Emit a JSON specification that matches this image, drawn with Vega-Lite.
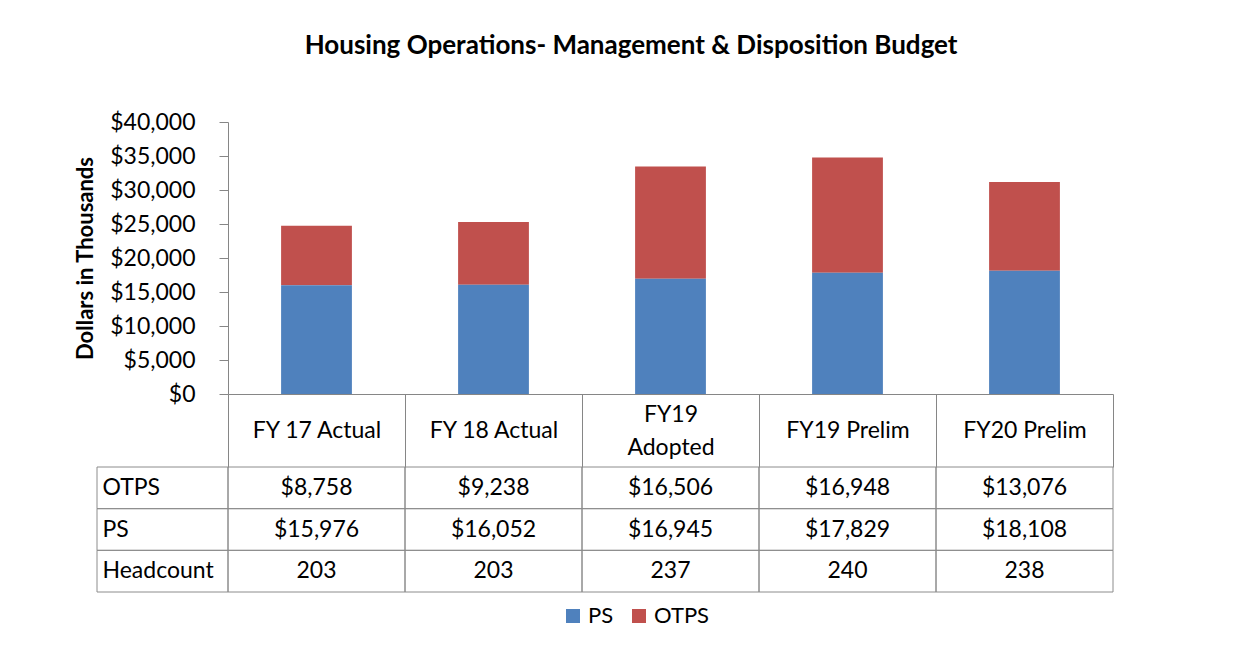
{
  "$schema": "https://vega.github.io/schema/vega-lite/v6.json",
  "padding": {"left": 74, "top": 33, "right": 10, "bottom": 10},
  "background": "white",
  "config": {
    "font": "Lato",
    "view": {"stroke": null},
    "axis": {"labelFont": "Lato", "titleFont": "Lato", "labelColor": "#000000", "titleColor": "#000000", "domainColor": "#868686", "tickColor": "#868686", "grid": false}
  },
  "title": {"text": "Housing Operations- Management & Disposition Budget", "fontSize": 26, "fontWeight": "bold", "font": "Lato", "color": "#000000", "anchor": "middle", "offset": 52, "dx": 37},
  "datasets": {
    "budget": [
      {"category": "FY 17 Actual", "row": "OTPS", "value": 8758},
      {"category": "FY 17 Actual", "row": "PS", "value": 15976},
      {"category": "FY 17 Actual", "row": "Headcount", "value": 203},
      {"category": "FY 18 Actual", "row": "OTPS", "value": 9238},
      {"category": "FY 18 Actual", "row": "PS", "value": 16052},
      {"category": "FY 18 Actual", "row": "Headcount", "value": 203},
      {"category": "FY19 Adopted", "row": "OTPS", "value": 16506},
      {"category": "FY19 Adopted", "row": "PS", "value": 16945},
      {"category": "FY19 Adopted", "row": "Headcount", "value": 237},
      {"category": "FY19 Prelim", "row": "OTPS", "value": 16948},
      {"category": "FY19 Prelim", "row": "PS", "value": 17829},
      {"category": "FY19 Prelim", "row": "Headcount", "value": 240},
      {"category": "FY20 Prelim", "row": "OTPS", "value": 13076},
      {"category": "FY20 Prelim", "row": "PS", "value": 18108},
      {"category": "FY20 Prelim", "row": "Headcount", "value": 238}
    ]
  },
  "columns": 2,
  "spacing": {"row": 73, "column": 0},
  "bounds": "flush",
  "align": "each",
  "resolve": {"scale": {"color": "independent"}, "legend": {"color": "independent"}},
  "concat": [
    {
      "width": 131,
      "height": 272,
      "data": {"values": [{}]},
      "mark": {"type": "rect", "opacity": 0}
    },
    {
      "width": 885,
      "height": 272,
      "data": {"name": "budget"},
      "transform": [{"filter": "datum.row != 'Headcount'"}],
      "mark": {"type": "bar", "width": {"band": 0.4}},
      "encoding": {
        "x": {
          "field": "category", "type": "nominal",
          "sort": ["FY 17 Actual", "FY 18 Actual", "FY19 Adopted", "FY19 Prelim", "FY20 Prelim"],
          "scale": {"paddingInner": 0, "paddingOuter": 0},
          "axis": {"title": null, "labelAngle": 0, "tickBand": "extent", "tickSize": 73, "labelPadding": {"condition": {"test": "datum.value == 'FY19 Adopted'", "value": -53}, "value": -37}, "labelBaseline": "middle", "labelAlign": "center", "labelLineHeight": 33, "labelFontSize": 23, "labelExpr": "datum.value == 'FY19 Adopted' ? ['FY19', 'Adopted'] : datum.label", "zindex": 1}
        },
        "y": {
          "field": "value", "type": "quantitative", "stack": "zero",
          "scale": {"domain": [0, 40000]},
          "axis": {"title": "Dollars in Thousands", "titleFontSize": 22, "titleFontWeight": "bold", "titlePadding": 12, "values": [0, 5000, 10000, 15000, 20000, 25000, 30000, 35000, 40000], "format": "$,d", "labelFontSize": 23, "tickSize": 9, "labelPadding": 24, "zindex": 1}
        },
        "color": {
          "field": "row", "type": "nominal",
          "scale": {"domain": ["PS", "OTPS"], "range": ["#4F81BD", "#C0504D"]},
          "legend": {"title": null, "orient": "none", "legendX": 334, "legendY": 483, "direction": "horizontal", "symbolType": "square", "symbolSize": 196, "symbolStrokeWidth": 0, "labelFontSize": 22, "labelFont": "Lato", "labelColor": "#000000", "labelOffset": 4, "columnPadding": 14}
        },
        "order": {"field": "row", "sort": "descending"}
      }
    },
    {
      "width": 131,
      "height": 125,
      "data": {"name": "budget"},
      "transform": [{"aggregate": [{"op": "count", "as": "n"}], "groupby": ["row"]}],
      "mark": {"type": "rect", "filled": false, "color": "#8c8c8c", "strokeWidth": 1},
      "encoding": {
        "y": {
          "field": "row", "type": "nominal", "sort": ["OTPS", "PS", "Headcount"],
          "scale": {"paddingInner": 0, "paddingOuter": 0},
          "axis": {"title": null, "orient": "left", "ticks": false, "domain": false, "labelAlign": "left", "labelBaseline": "middle", "labelPadding": -5, "labelFontSize": 23, "zindex": 1}
        }
      }
    },
    {
      "width": 885,
      "height": 125,
      "data": {"name": "budget"},
      "encoding": {
        "x": {"field": "category", "type": "nominal", "sort": ["FY 17 Actual", "FY 18 Actual", "FY19 Adopted", "FY19 Prelim", "FY20 Prelim"], "scale": {"paddingInner": 0, "paddingOuter": 0}, "axis": null},
        "y": {"field": "row", "type": "nominal", "sort": ["OTPS", "PS", "Headcount"], "scale": {"paddingInner": 0, "paddingOuter": 0}, "axis": null}
      },
      "layer": [
        {"mark": {"type": "rect", "filled": false, "color": "#8c8c8c", "strokeWidth": 1}},
        {
          "transform": [{"filter": "datum.row != 'Headcount'"}],
          "mark": {"type": "text", "fontSize": 23, "font": "Lato", "color": "#000000"},
          "encoding": {"text": {"field": "value", "type": "quantitative", "format": "$,d"}}
        },
        {
          "transform": [{"filter": "datum.row == 'Headcount'"}],
          "mark": {"type": "text", "fontSize": 23, "font": "Lato", "color": "#000000"},
          "encoding": {"text": {"field": "value", "type": "quantitative", "format": "d"}}
        }
      ]
    }
  ]
}
